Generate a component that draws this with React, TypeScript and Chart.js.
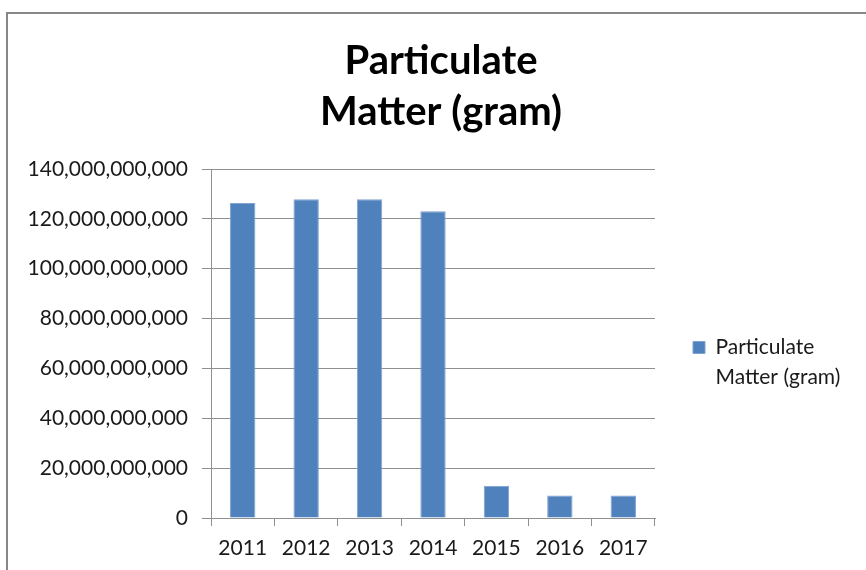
import React, { useEffect, useRef } from 'react';
import { Chart, registerables } from 'chart.js';

Chart.register(...registerables);

// ---- data ----
const categories = ['2011', '2012', '2013', '2014', '2015', '2016', '2017'];
const pmValues = [126.4e9, 127.9e9, 127.9e9, 123.1e9, 12.9e9, 9.0e9, 9.0e9];
const seriesName = 'Particulate Matter (gram)';
const legendLines = ['Particulate', 'Matter (gram)'];
const titleLines = ['Particulate', 'Matter (gram)'];
const yMin = 0;
const yMax = 140e9;
const yStep = 20e9;

const W = 866;
const H = 570;
const FONT = 'Lato, "Open Sans", sans-serif';
const GRID = '#8f8f8f';

export default function App() {
  const ref = useRef<HTMLCanvasElement | null>(null);

  useEffect(() => {
    if (!ref.current) return;
    const chart = new Chart(ref.current, {
      type: 'bar',
      data: {
        labels: categories,
        datasets: [
          {
            label: seriesName,
            data: pmValues,
            backgroundColor: '#4F81BD',
            borderColor: '#7FA2CF',
            borderWidth: 1,
            barPercentage: 0.4,
            categoryPercentage: 1,
          },
        ],
      },
      options: {
        responsive: false,
        animation: false,
        devicePixelRatio: 1,
        layout: { padding: { left: 16, right: 0, top: 0, bottom: 0 } },
        plugins: {
          tooltip: { enabled: false },
          title: {
            display: true,
            text: titleLines,
            color: '#000',
            font: { family: FONT, size: 40, weight: 'bold', lineHeight: 1.275 },
            padding: { top: 36, bottom: 31 },
          },
          legend: {
            display: true,
            position: 'right',
            fullSize: false,
            maxWidth: 211,
            title: {
              display: true,
              text: '',
              font: { size: 1, lineHeight: 1 },
              padding: { top: 46, bottom: 0 },
            },
            labels: {
              boxWidth: 12,
              boxHeight: 12,
              padding: 38,
              color: '#1a1a1a',
              font: { family: FONT, size: 21, lineHeight: 1.43 },
              generateLabels: (c: any) => {
                const items = (Chart.defaults as any).plugins.legend.labels.generateLabels(c);
                items.forEach((it: any) => {
                  const lines = legendLines.slice();
                  lines[lines.length - 1] = lines[lines.length - 1] + ' '.repeat(60);
                  it.text = lines;
                });
                return items;
              },
            },
          },
        },
        scales: {
          x: {
            grid: {
              display: true,
              drawOnChartArea: false,
              drawTicks: true,
              tickLength: 8,
              offset: true,
              color: GRID,
            },
            border: { display: true, color: GRID, width: 1 },
            ticks: {
              color: '#1a1a1a',
              padding: 10,
              font: { family: FONT, size: 21 },
              maxRotation: 0,
            },
            afterFit: (s: any) => {
              s.height = 52;
            },
          },
          y: {
            min: yMin,
            max: yMax,
            grid: { color: GRID, lineWidth: 1, drawTicks: true, tickLength: 9 },
            border: { display: true, color: GRID, width: 1 },
            ticks: {
              stepSize: yStep,
              color: '#1a1a1a',
              padding: 14,
              font: { family: FONT, size: 21 },
              callback: (v: any) => Number(v).toLocaleString('en-US'),
            },
            afterFit: (s: any) => {
              s.width = 195;
            },
          },
        },
      },
    });
    return () => chart.destroy();
  }, []);

  return (
    <div
      style={{
        position: 'fixed',
        left: 0,
        top: 0,
        width: W,
        height: H,
        overflow: 'hidden',
        background: '#fff',
      }}
    >
      <div
        style={{
          position: 'absolute',
          left: 6,
          top: 12,
          width: W,
          height: H,
          borderTop: '2px solid #878787',
          borderLeft: '2px solid #878787',
        }}
      />
      <canvas
        ref={ref}
        width={W}
        height={H}
        style={{ position: 'absolute', left: 0, top: 0, width: W, height: H }}
      />
    </div>
  );
}
